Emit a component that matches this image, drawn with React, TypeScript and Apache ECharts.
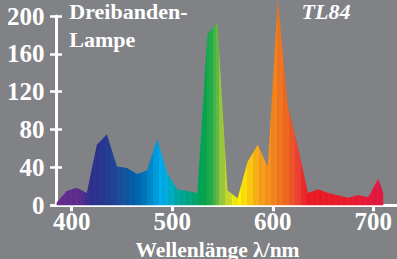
import React, { useEffect, useRef } from "react";
import * as echarts from "echarts";

// Spectral power distribution (nm, relative intensity)
const wavelengths = [
  385, 395, 405, 415, 425, 435, 445, 455, 465, 475, 485, 495, 505, 515, 525,
  535, 545, 555, 565, 575, 585, 595, 605, 615, 625, 635, 645, 655, 665, 675,
  685, 695, 705, 710,
];
const intensities = [
  3, 15, 18.5, 13, 64, 75, 41, 39.5, 33, 37, 70, 34, 17, 15, 13,
  181, 193, 16, 7.5, 46, 64, 41, 217, 104, 62, 13, 17, 13, 10.5, 8,
  11, 8.5, 28, 13,
];
const xTickValues = [400, 500, 600, 700];
const titleLines = ["Dreibanden-", "Lampe"];
const lampName = "TL84";
const xAxisName = "Wellenlänge λ/nm";

// Style: colour of light by wavelength
const spectrumAnchors: [number, string][] = [
  [385, "#6a2c91"],
  [408, "#5e2d91"],
  [418, "#30318f"],
  [435, "#263b93"],
  [448, "#1b4f9c"],
  [462, "#0061aa"],
  [472, "#0074bd"],
  [482, "#0097d9"],
  [489, "#00aeef"],
  [497, "#00afd3"],
  [507, "#00a99d"],
  [520, "#00a77c"],
  [530, "#00a651"],
  [537, "#1aab4b"],
  [542, "#39b54a"],
  [548, "#8dc63f"],
  [552, "#a6ce39"],
  [557, "#d7df23"],
  [565, "#fff200"],
  [571, "#ffe10f"],
  [578, "#fdc70f"],
  [586, "#f9a61b"],
  [595, "#f7941d"],
  [605, "#f47b20"],
  [615, "#f26522"],
  [625, "#ef4136"],
  [635, "#ed1c24"],
  [670, "#ed1c2c"],
  [710, "#e41a45"],
];

function hexToRgb(h: string): number[] {
  const n = parseInt(h.slice(1), 16);
  return [(n >> 16) & 255, (n >> 8) & 255, n & 255];
}

function colorAt(l: number, shade: number): string {
  const a = spectrumAnchors;
  let c = hexToRgb(a[a.length - 1][1]);
  if (l <= a[0][0]) c = hexToRgb(a[0][1]);
  else {
    for (let i = 1; i < a.length; i++) {
      if (l <= a[i][0]) {
        const t = (l - a[i - 1][0]) / (a[i][0] - a[i - 1][0]);
        const c0 = hexToRgb(a[i - 1][1]);
        const c1 = hexToRgb(a[i][1]);
        c = c0.map((v, k) => v + (c1[k] - v) * t);
        break;
      }
    }
  }
  const s = c.map((v) => Math.max(0, Math.min(255, Math.round(v * shade))));
  return `rgb(${s[0]},${s[1]},${s[2]})`;
}

function buildStops() {
  const lo = wavelengths[0];
  const hi = wavelengths[wavelengths.length - 1];
  const band = 3;
  const stops: { offset: number; color: string }[] = [];
  let k = 0;
  for (let a = lo; a < hi; a += band) {
    const b = Math.min(a + band, hi);
    const c = colorAt((a + b) / 2, k % 2 === 0 ? 1 : 0.96);
    stops.push({ offset: (a - lo) / (hi - lo), color: c });
    stops.push({ offset: (b - lo) / (hi - lo), color: c });
    k++;
  }
  return stops;
}

const FONT = '"Liberation Serif", "Times New Roman", serif';
const WHITE = "#ffffff";
const BG = "#808285";

export default function App() {
  const ref = useRef<HTMLDivElement>(null);

  useEffect(() => {
    document.body.style.margin = "0";
    document.body.style.background = BG;
    const chart = echarts.init(ref.current!, null, { renderer: "svg" });
    const data = wavelengths.map((w, i) => [w, intensities[i]]);

    const labelStyle = {
      color: WHITE,
      fontFamily: FONT,
      fontWeight: "bold" as const,
      fontSize: 25,
    };

    chart.setOption({
      animation: false,
      backgroundColor: BG,
      grid: {
        left: 51.6,
        top: 16,
        width: 345.8,
        height: 189.3,
        containLabel: false,
        outerBoundsMode: "none",
      },
      xAxis: [
        {
          type: "value",
          min: 380,
          max: 724,
          position: "bottom",
          axisLine: { show: true, onZero: false, lineStyle: { color: WHITE, width: 3 } },
          axisTick: {
            show: true,
            inside: false,
            length: 6,
            customValues: xTickValues,
            lineStyle: { color: WHITE, width: 3 },
          },
          axisLabel: {
            ...labelStyle,
            customValues: xTickValues,
            margin: 16,
            verticalAlign: "middle",
          },
          splitLine: { show: false },
          name: xAxisName,
          nameLocation: "middle",
          nameGap: 40,
          nameTextStyle: {
            color: WHITE,
            fontFamily: FONT,
            fontWeight: "bold",
            fontSize: 21.5,
            lineHeight: 16,
            verticalAlign: "middle",
            padding: [0, 14, 0, 0],
          },
        },
        {
          type: "value",
          min: 380,
          max: 724,
          position: "bottom",
          axisLine: { show: false, onZero: false },
          axisTick: {
            show: true,
            inside: true,
            length: 6,
            customValues: xTickValues,
            lineStyle: { color: WHITE, width: 3 },
          },
          axisLabel: { show: false },
          splitLine: { show: false },
        },
      ],
      yAxis: [
        {
          type: "value",
          min: 0,
          max: 200,
          interval: 40,
          position: "left",
          offset: -4.4,
          axisLine: { show: true, onZero: false, lineStyle: { color: WHITE, width: 3 } },
          axisTick: { show: true, inside: false, length: 6, lineStyle: { color: WHITE, width: 2.5 } },
          axisLabel: { ...labelStyle, margin: 11.5 },
          splitLine: { show: false },
        },
        {
          type: "value",
          min: 0,
          max: 200,
          interval: 40,
          position: "left",
          offset: -4.4,
          axisLine: { show: false, onZero: false },
          axisTick: { show: true, inside: true, length: 6, lineStyle: { color: WHITE, width: 2.5 } },
          axisLabel: { show: false },
          splitLine: { show: false },
        },
      ],
      series: [
        {
          type: "line",
          xAxisIndex: 0,
          yAxisIndex: 0,
          data,
          symbol: "none",
          clip: false,
          silent: true,
          lineStyle: { width: 0, opacity: 0 },
          areaStyle: {
            opacity: 1,
            color: new echarts.graphic.LinearGradient(0, 0, 1, 0, buildStops()),
          },
          z: 1,
        },
      ],
      graphic: [
        {
          type: "text",
          x: 69.3,
          y: 11,
          z: 10,
          style: {
            text: titleLines[0],
            fill: WHITE,
            font: `bold 22px ${FONT}`,
            lineHeight: 17,
            align: "left",
            verticalAlign: "middle",
          },
        },
        {
          type: "text",
          x: 69.3,
          y: 39,
          z: 10,
          style: {
            text: titleLines[1],
            fill: WHITE,
            font: `bold 22px ${FONT}`,
            lineHeight: 17,
            align: "left",
            verticalAlign: "middle",
          },
        },
        {
          type: "text",
          x: 301.5,
          y: 11,
          z: 10,
          style: {
            text: lampName,
            fill: WHITE,
            font: `italic bold 22px ${FONT}`,
            lineHeight: 17,
            align: "left",
            verticalAlign: "middle",
          },
        },
      ],
    });

    return () => chart.dispose();
  }, []);

  return (
    <div
      ref={ref}
      style={{ position: "fixed", left: 0, top: 0, width: 397, height: 259 }}
    />
  );
}
